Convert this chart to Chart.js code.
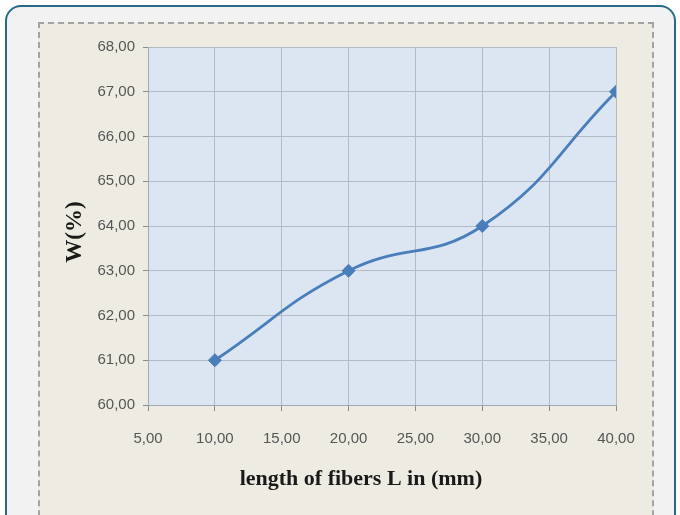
<!DOCTYPE html>
<html>
<head>
<meta charset="utf-8">
<script src="https://cdn.jsdelivr.net/npm/chart.js@4/dist/chart.umd.min.js"></script>
<style>
  html, body { margin: 0; padding: 0; background: #ffffff; width: 680px; height: 515px; overflow: hidden; }
  #frame {
    position: absolute; left: 5px; top: 5px; width: 667px; height: 560px;
    border: 2px solid #286a8a; border-radius: 16px; background: #f2f2f2;
  }
  #panel {
    position: absolute; left: 38px; top: 22px; width: 612px; height: 560px;
    border: 2px dashed #a3a3a3; background: #eeece2;
  }
  #wrap { position: absolute; left: 0; top: 0; width: 680px; height: 515px; }
</style>
</head>
<body>
<div id="frame"></div>
<div id="panel"></div>
<div id="wrap"><canvas id="chart" width="680" height="515"></canvas></div>
<script>
// Fiber length (mm) against moisture content W (%)
const fiberLengths = [10, 20, 30, 40];
const moistureW = [61, 63, 64, 67];
const xTickValues = [5, 10, 15, 20, 25, 30, 35, 40];
const yTickValues = [60, 61, 62, 63, 64, 65, 66, 67, 68];
const xTitle = 'length of fibers L in (mm)';
const yTitle = 'W(%)';

const fmt = v => v.toFixed(2).replace('.', ',');

// Light blue plot background
const plotFill = {
  id: 'plotFill',
  beforeDraw(chart) {
    const { ctx, chartArea: a } = chart;
    ctx.save();
    ctx.fillStyle = '#dce6f2';
    ctx.fillRect(a.left, a.top, a.right - a.left, a.bottom - a.top);
    ctx.restore();
  }
};

// Axis titles, placed relative to the plot area
const axisTitles = {
  id: 'axisTitles',
  afterDraw(chart) {
    const { ctx, chartArea: a } = chart;
    ctx.save();
    ctx.fillStyle = '#1a1a1a';
    ctx.textAlign = 'center';
    ctx.textBaseline = 'middle';
    ctx.font = 'bold 22px "Liberation Serif"';
    ctx.fillText(xTitle, a.left + (a.right - a.left) * 0.455, a.bottom + 74);
    ctx.translate(a.left - 73, (a.top + a.bottom) / 2 + 6);
    ctx.rotate(-Math.PI / 2);
    ctx.font = 'bold 23px "Liberation Serif"';
    ctx.fillText(yTitle, 0, 0);
    ctx.restore();
  }
};

const tickFont = { family: 'Liberation Sans', size: 15 };

new Chart(document.getElementById('chart'), {
  type: 'scatter',
  data: {
    datasets: [{
      data: fiberLengths.map((x, i) => ({ x, y: moistureW[i] })),
      showLine: true,
      tension: 0.45,
      borderColor: '#4a7ebb',
      backgroundColor: '#4a7ebb',
      borderWidth: 2.8,
      pointStyle: 'rectRot',
      pointRadius: 6.5,
      pointHoverRadius: 6.5,
      pointBorderWidth: 1
    }]
  },
  options: {
    responsive: false,
    animation: false,
    layout: { padding: { left: 61, right: 64, top: 47, bottom: 23 } },
    plugins: { legend: { display: false }, tooltip: { enabled: false } },
    scales: {
      x: {
        type: 'linear',
        min: 5, max: 40,
        afterBuildTicks: s => { s.ticks = xTickValues.map(v => ({ value: v })); },
        afterFit: s => { s.height = 87; },
        ticks: { callback: v => fmt(v), color: '#555555', font: tickFont, padding: 19, maxRotation: 0 },
        grid: { color: '#b2bac4', lineWidth: 1, tickLength: 6, tickColor: '#8a8a8a' },
        border: { color: '#a0aab6', width: 1 }
      },
      y: {
        type: 'linear',
        min: 60, max: 68,
        afterBuildTicks: s => { s.ticks = yTickValues.map(v => ({ value: v })); },
        afterFit: s => { s.width = 87; },
        ticks: { callback: v => fmt(v), color: '#555555', font: tickFont, padding: 8 },
        grid: { color: '#b2bac4', lineWidth: 1, tickLength: 5, tickColor: '#8a8a8a' },
        border: { color: '#a0aab6', width: 1 }
      }
    }
  },
  plugins: [plotFill, axisTitles]
});
</script>
</body>
</html>
